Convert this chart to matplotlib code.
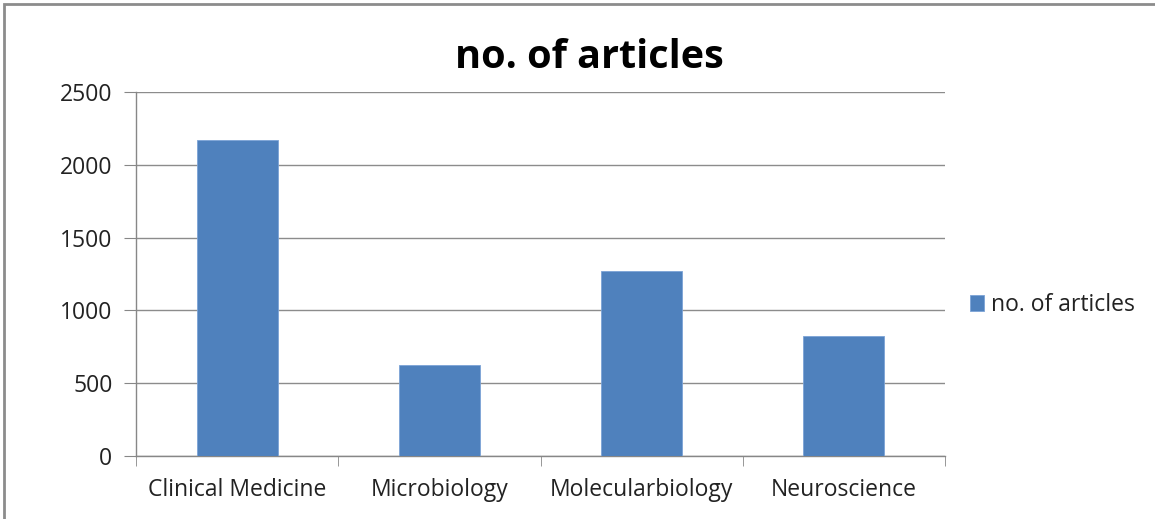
import matplotlib
matplotlib.use("Agg")
import matplotlib.pyplot as plt
import numpy as np
from matplotlib.patches import Rectangle

categories = ['Clinical Medicine', 'Microbiology', 'Molecularbiology', 'Neuroscience']
articles = [2167, 626, 1271, 821]
y_ticks = [0, 500, 1000, 1500, 2000, 2500]

plt.rcParams['font.family'] = ['Open Sans', 'DejaVu Sans']

fig = plt.figure(figsize=(11.55, 5.19), dpi=100)
ax = fig.add_axes([136 / 1155, 1 - 456 / 519, (945 - 136) / 1155, (456 - 92) / 519])

x = np.arange(len(categories))
ax.bar(x, articles, width=0.4, color='#4F81BD', edgecolor='#7BA3D6', linewidth=0.6,
       label='no. of articles', zorder=3)

ax.set_xlim(-0.5, len(categories) - 0.5)
ax.set_ylim(0, 2500)
ax.set_yticks(y_ticks)
ax.set_yticklabels([str(v) for v in y_ticks], fontsize=16.5, color='#222222')
ax.set_xticks(x)
ax.set_xticklabels(categories, fontsize=16.5, color='#222222')
ax.set_xticks(np.arange(len(categories) + 1) - 0.5, minor=True)
ax.tick_params(axis='x', which='major', length=0, pad=16)
ax.tick_params(axis='x', which='minor', length=7, color='#878787', direction='out')
ax.tick_params(axis='y', length=9, color='#878787', direction='out', pad=8)

ax.grid(axis='y', color='#8C8C8C', linewidth=1, zorder=0)
for side in ['top', 'right']:
    ax.spines[side].set_visible(False)
for side in ['left', 'bottom']:
    ax.spines[side].set_color('#878787')
    ax.spines[side].set_linewidth(1)

fig.text(589 / 1155, 1 - 58 / 519, 'no. of articles', ha='center', va='center',
         fontsize=28.5, fontweight='bold', color='black')

ax.legend(loc='center left', bbox_to_anchor=(1.006, 0.415), frameon=False, fontsize=16.5,
          handlelength=0.6, handleheight=0.7, handletextpad=0.3, labelcolor='#222222')

# outer frame of the chart area
fig.patches.append(Rectangle((4 / 1155, -0.1), 1.2, 1 - 4 / 519 + 0.1, transform=fig.transFigure,
                             fill=False, edgecolor='#8C8C8C', linewidth=2))

fig.savefig('out.png', dpi=100)
